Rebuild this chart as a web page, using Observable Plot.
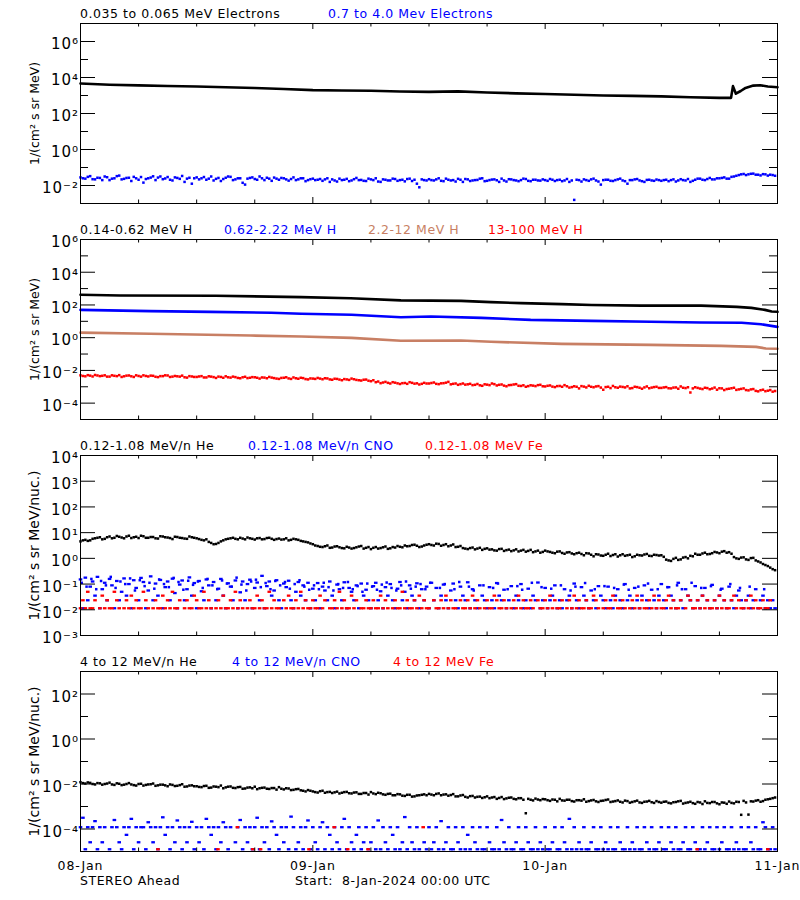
<!DOCTYPE html>
<html><head><meta charset="utf-8">
<script src="https://cdn.jsdelivr.net/npm/d3@7"></script>
<script src="https://cdn.jsdelivr.net/npm/@observablehq/plot@0.6"></script>
<style>
body{margin:0;background:#fff;}
#wrap{position:relative;width:800px;height:900px;background:#fff;font-family:"DejaVu Sans",sans-serif;overflow:hidden;}
.t{position:absolute;white-space:pre;font-size:12.5px;letter-spacing:0.55px;line-height:14px;}
</style></head><body><div id="wrap"></div>
<script>
// ---------- time range ----------
const startDate = "2024-01-08T00:00Z";
const endDate = "2024-01-11T00:00Z";
const dayTicks = ["2024-01-08T00:00Z","2024-01-09T00:00Z","2024-01-10T00:00Z","2024-01-11T00:00Z"];

// ---------- colours ----------
const cBlack = "#000000", cBlue = "#0000ff", cBrown = "#c87f64", cRed = "#ff0000";

// ---------- Panel 1: electrons (log10 values) ----------
const e1Hours = [0,3,6,9,12,15,18,21,24,27,30,33,36,39,42,45,48,51,54,57,60,63,66,67.2,67.4,67.7,68.2,68.7,69.5,70.2,71,72];
const e1Log   = [3.67,3.6,3.56,3.53,3.5,3.46,3.42,3.36,3.3,3.28,3.26,3.22,3.2,3.23,3.17,3.12,3.08,3.04,3.0,2.98,2.95,2.9,2.87,2.87,3.52,3.1,3.25,3.42,3.55,3.57,3.5,3.46];
const e2Log = [ // 0.7-4.0 MeV electrons, 30-min samples
 -1.55,-1.62,-1.48,-1.66,-1.58,-1.5,-1.7,-1.6,-1.45,-1.63,-1.57,-1.52,-1.68,-1.84,-1.6,-1.49,-1.56,-1.65,-1.53,-1.72,-1.58,-1.47,-1.62,-1.9,
 -1.55,-1.6,-1.68,-1.5,-1.63,-1.75,-1.57,-1.52,-1.66,-1.6,-1.95,-1.58,-1.64,-1.5,-1.7,-1.62,-1.56,-1.68,-1.6,-1.73,-1.55,-1.66,-1.6,-1.7,
 -1.62,-1.68,-1.74,-1.6,-1.66,-1.78,-1.7,-1.63,-1.72,-1.58,-1.69,-1.75,-1.66,-1.6,-1.8,-1.68,-1.72,-1.64,-1.7,-1.77,-1.62,-1.68,-2.1,-1.7,
 -1.65,-1.72,-1.6,-1.76,-1.68,-1.7,-1.63,-1.8,-1.66,-1.72,-1.69,-1.6,-1.74,-1.67,-1.71,-1.62,-1.78,-1.66,-1.72,-1.7,-1.64,-1.76,-1.68,-1.73,
 -1.7,-1.64,-1.75,-1.68,-1.72,-1.8,-2.8,-1.7,-1.66,-1.74,-1.62,-1.78,-1.7,-1.68,-1.75,-1.66,-1.72,-1.9,-1.7,-1.64,-1.76,-1.69,-1.72,-1.67,
 -1.74,-1.68,-1.7,-1.78,-1.65,-1.72,-1.8,-1.68,-1.62,-1.7,-1.58,-1.66,-1.6,-1.55,-1.62,-1.5,-1.42,-1.36,-1.38,-1.34,-1.4,-1.37,-1.45,-1.42];
const e2LogB = [ // same channel, samples 15 min later
 -1.6,-1.52,-1.65,-1.57,-1.7,-1.54,-1.62,-1.48,-1.66,-1.58,-1.75,-1.6,-1.53,-1.64,-1.56,-1.7,-1.5,-1.61,-1.68,-1.55,-1.63,-1.8,-1.57,-1.6,
 -1.66,-1.53,-1.62,-1.72,-1.58,-1.64,-1.5,-1.7,-1.6,-1.85,-1.62,-1.55,-1.68,-1.6,-1.57,-1.74,-1.62,-1.58,-1.66,-1.64,-1.7,-1.6,-1.76,-1.65,
 -1.7,-1.64,-1.66,-1.8,-1.72,-1.62,-1.68,-1.76,-1.65,-1.7,-1.74,-1.62,-1.7,-1.78,-1.66,-1.72,-1.62,-1.74,-1.68,-1.64,-1.75,-1.9,-1.66,-1.72,
 -1.7,-1.66,-1.74,-1.62,-1.72,-1.78,-1.68,-1.64,-1.75,-1.7,-1.62,-1.76,-1.7,-1.66,-1.8,-1.72,-1.65,-1.7,-1.76,-1.62,-1.74,-1.68,-1.72,-1.66,
 -1.74,-1.68,-1.7,-1.76,-1.64,-1.72,-1.68,-1.78,-1.7,-1.66,-1.72,-1.95,-1.68,-1.74,-1.7,-1.62,-1.76,-1.7,-1.66,-1.72,-1.8,-1.68,-1.74,-1.7,
 -1.7,-1.76,-1.66,-1.72,-1.7,-1.64,-1.74,-1.62,-1.68,-1.64,-1.66,-1.6,-1.58,-1.62,-1.52,-1.46,-1.38,-1.42,-1.35,-1.4,-1.44,-1.38,-1.4,-1.46];

// ---------- Panel 2: protons ----------
const h1Hours = [0,4.1,14,22.8,27.9,33.1,39.3,42.4,45.5,49.7,52.8,57.9,64.1,67.8,69.3,70.7,71.4,72];
const h1Log   = [2.62,2.58,2.56,2.48,2.41,2.28,2.25,2.17,2.11,2.05,2.0,1.96,1.96,1.88,1.82,1.7,1.6,1.58];
const h2Hours = [0,7.2,13.4,19.7,22.8,28,33.1,36.2,41.4,46.5,52.8,58.9,64.1,68.3,70.3,72];
const h2Log   = [1.7,1.62,1.58,1.52,1.46,1.4,1.25,1.29,1.21,1.09,1.03,0.97,0.93,0.91,0.82,0.66];
const h3Hours = [0,7.2,17.6,22.8,28,33.1,39.3,42.4,49.7,58.9,66.2,69.8,70.8,72];
const h3Log   = [0.31,0.24,0.13,0.07,-0.01,-0.19,-0.17,-0.25,-0.38,-0.44,-0.5,-0.56,-0.66,-0.68];
const h4Log = [ // 13-100 MeV H, 30-min samples
 -2.3,-2.36,-2.32,-2.28,-2.35,-2.3,-2.38,-2.33,-2.29,-2.36,-2.31,-2.4,-2.34,-2.3,-2.37,-2.33,-2.41,-2.35,-2.31,-2.38,-2.36,-2.32,-2.44,-2.37,
 -2.4,-2.35,-2.43,-2.38,-2.46,-2.4,-2.36,-2.44,-2.41,-2.48,-2.39,-2.45,-2.42,-2.5,-2.44,-2.4,-2.47,-2.52,-2.45,-2.49,-2.43,-2.51,-2.47,-2.55,
 -2.5,-2.46,-2.54,-2.49,-2.57,-2.52,-2.6,-2.55,-2.5,-2.58,-2.62,-2.56,-2.66,-2.72,-2.78,-2.7,-2.8,-2.75,-2.83,-2.77,-2.72,-2.81,-2.86,-2.76,
 -2.8,-2.74,-2.84,-2.78,-2.7,-2.82,-2.88,-2.8,-2.85,-2.9,-2.83,-2.94,-2.87,-2.8,-2.92,-2.86,-2.97,-2.89,-2.84,-2.95,-3.0,-2.91,-2.96,-2.88,
 -2.98,-2.92,-3.02,-2.95,-2.9,-3.05,-2.97,-3.1,-2.99,-2.94,-3.03,-2.96,-3.18,-3.0,-2.95,-3.06,-3.01,-2.97,-3.08,-3.02,-3.12,-2.98,-3.05,-3.0,
 -3.07,-3.02,-3.1,-3.04,-2.98,-3.08,-3.35,-3.03,-3.11,-3.06,-3.15,-3.05,-3.09,-3.2,-3.12,-3.06,-3.16,-3.1,-3.22,-3.14,-3.28,-3.18,-3.24,-3.3];
const h4LogB = [
 -2.34,-2.29,-2.37,-2.31,-2.33,-2.38,-2.3,-2.35,-2.4,-2.32,-2.36,-2.3,-2.38,-2.34,-2.32,-2.39,-2.35,-2.3,-2.4,-2.34,-2.38,-2.42,-2.35,-2.4,
 -2.37,-2.43,-2.36,-2.41,-2.38,-2.45,-2.42,-2.38,-2.46,-2.42,-2.47,-2.41,-2.45,-2.43,-2.48,-2.44,-2.5,-2.46,-2.42,-2.52,-2.48,-2.45,-2.53,-2.49,
 -2.52,-2.5,-2.48,-2.55,-2.51,-2.56,-2.53,-2.58,-2.54,-2.6,-2.57,-2.63,-2.6,-2.68,-2.74,-2.76,-2.72,-2.79,-2.78,-2.82,-2.76,-2.79,-2.82,-2.8,
 -2.77,-2.82,-2.79,-2.75,-2.85,-2.8,-2.84,-2.87,-2.82,-2.88,-2.91,-2.85,-2.9,-2.84,-2.88,-2.93,-2.9,-2.86,-2.94,-2.91,-2.96,-2.93,-2.9,-2.97,
 -2.94,-2.99,-2.96,-3.0,-2.97,-3.02,-3.0,-2.96,-3.04,-3.0,-2.98,-3.05,-3.02,-3.08,-3.03,-2.99,-3.04,-3.1,-3.0,-3.06,-3.04,-3.09,-3.02,-3.07,
 -3.04,-3.09,-3.05,-3.12,-3.06,-3.03,-3.1,-3.07,-3.14,-3.08,-3.11,-3.18,-3.1,-3.14,-3.09,-3.19,-3.13,-3.2,-3.16,-3.25,-3.21,-3.27,-3.2,-3.26];

// ---------- Panel 3: 0.12-1.08 MeV/n ----------
const he1Log = [ // He, 30-min samples
 0.66,0.72,0.7,0.78,0.82,0.76,0.85,0.8,0.84,0.78,0.88,0.82,0.79,0.86,0.8,0.83,0.77,0.85,0.81,0.75,0.83,0.79,0.76,0.82,
 0.78,0.72,0.74,0.6,0.56,0.66,0.74,0.78,0.76,0.8,0.74,0.78,0.73,0.79,0.75,0.8,0.72,0.77,0.74,0.7,0.76,0.72,0.66,0.62,
 0.55,0.48,0.44,0.5,0.42,0.47,0.4,0.45,0.38,0.43,0.48,0.41,0.36,0.44,0.4,0.46,0.39,0.42,0.45,0.5,0.48,0.53,0.44,0.5,
 0.55,0.5,0.56,0.52,0.47,0.54,0.45,0.4,0.36,0.42,0.38,0.33,0.39,0.35,0.3,0.37,0.32,0.28,0.35,0.3,0.26,0.33,0.27,0.22,
 0.3,0.25,0.2,0.27,0.18,0.24,0.16,0.22,0.12,0.19,0.08,0.15,0.1,0.18,0.13,0.07,0.16,0.12,0.05,0.14,0.11,0.17,0.09,0.13,
 0.12,-0.05,-0.1,0.02,-0.04,0.05,0.1,0.18,0.14,0.22,0.17,0.25,0.2,0.28,0.24,0.05,-0.02,0.04,-0.06,0.02,-0.12,-0.22,-0.3,-0.42];
const he1LogB = [
 0.7,0.68,0.76,0.8,0.74,0.82,0.78,0.87,0.81,0.85,0.79,0.84,0.88,0.8,0.83,0.78,0.86,0.82,0.79,0.84,0.8,0.77,0.85,0.8,
 0.75,0.7,0.64,0.55,0.6,0.7,0.76,0.8,0.74,0.77,0.81,0.76,0.78,0.74,0.79,0.76,0.75,0.73,0.78,0.72,0.74,0.68,0.64,0.58,
 0.5,0.45,0.47,0.41,0.46,0.43,0.39,0.42,0.4,0.46,0.38,0.44,0.41,0.38,0.43,0.37,0.44,0.48,0.43,0.47,0.52,0.49,0.46,0.53,
 0.52,0.57,0.49,0.55,0.5,0.44,0.48,0.38,0.4,0.35,0.41,0.37,0.34,0.31,0.36,0.29,0.34,0.31,0.27,0.33,0.29,0.24,0.3,0.25,
 0.27,0.22,0.26,0.21,0.23,0.19,0.2,0.17,0.2,0.14,0.16,0.11,0.14,0.09,0.16,0.12,0.1,0.14,0.08,0.12,0.15,0.1,0.14,0.11,
 0.06,-0.08,-0.02,-0.06,0.03,0.0,0.08,0.14,0.19,0.16,0.2,0.23,0.26,0.22,0.18,0.0,0.03,-0.04,0.01,-0.08,-0.16,-0.26,-0.36,-0.46];
const cno1Log = [ // CNO, 15-min samples
 -0.82,-1.94,-0.75,-1.63,-1.1,-0.9,-1.45,-0.72,-1.94,-1.2,-0.95,-1.63,-0.8,-1.05,-1.94,-0.88,-1.63,-1.3,-0.78,-1.45,-1.0,-1.94,-0.85,-1.15,
 -1.63,-0.76,-0.92,-1.94,-1.25,-0.7,-1.63,-0.98,-1.45,-0.84,-1.94,-1.12,-0.9,-1.63,-0.79,-1.35,-1.94,-1.02,-0.86,-1.63,-1.2,-0.74,-1.45,-0.96,
 -1.94,-0.88,-1.28,-1.63,-0.82,-1.05,-1.94,-0.92,-1.63,-1.18,-0.8,-1.45,-1.94,-0.97,-1.1,-1.63,-0.86,-1.94,-1.32,-0.9,-1.63,-1.0,-0.83,-1.94,
 -1.15,-0.94,-1.63,-0.68,-1.94,-1.08,-0.9,-1.45,-1.25,-0.85,-1.63,-1.94,-0.98,-1.12,-0.87,-1.63,-1.94,-1.3,-0.92,-1.45,-1.05,-1.63,-0.95,-1.94,
 -1.18,-1.63,-0.96,-1.94,-1.1,-1.25,-1.63,-0.9,-1.45,-1.94,-1.02,-1.2,-1.63,-0.93,-1.94,-1.15,-1.3,-1.63,-1.05,-1.94,-0.98,-1.45,-1.22,-1.63,
 -1.94,-1.08,-0.95,-1.63,-1.28,-1.94,-1.12,-1.45,-1.0,-1.63,-1.94,-1.18,-0.92,-1.63,-1.3,-1.94,-1.05,-1.45,-1.63,-0.97,-1.94,-1.2,-1.63,-1.1,
 -1.94,-0.95,-1.63,-1.15,-1.94,-1.45,-1.02,-1.63,-1.94,-1.25,-0.98,-1.63,-1.94,-1.1,-1.45,-1.63,-0.93,-1.94,-1.2,-1.63,-1.94,-1.05,-1.45,-1.63,
 -1.94,-1.12,-1.63,-1.94,-0.96,-1.45,-1.63,-1.22,-1.94,-1.63,-1.08,-1.94,-1.45,-1.63,-1.0,-1.94,-1.63,-1.18,-1.94,-1.45,-1.63,-0.94,-1.94,-1.63,
 -1.15,-1.94,-1.63,-1.45,-1.05,-1.94,-1.63,-1.94,-1.2,-1.63,-1.45,-1.94,-0.98,-1.63,-1.94,-1.12,-1.45,-1.63,-1.94,-1.25,-1.63,-1.94,-1.08,-1.45,
 -1.63,-1.94,-1.1,-1.63,-1.94,-1.45,-1.2,-1.63,-1.94,-1.0,-1.63,-1.45,-1.94,-1.15,-1.63,-1.94,-1.45,-1.05,-1.63,-1.94,-1.22,-1.63,-1.94,-1.45,
 -1.0,-1.63,-1.94,-1.12,-1.45,-1.63,-1.94,-0.95,-1.63,-1.94,-1.2,-1.45,-1.63,-1.94,-1.08,-1.63,-1.94,-1.45,-1.15,-1.63,-1.94,-1.03,-1.63,-1.94,
 -1.45,-1.18,-1.63,-1.94,-1.1,-1.63,-1.94,-1.45,-1.25,-1.63,-1.94,-1.63,-1.45,-1.94,-1.63,-1.2,-1.94,-1.63,-1.45,-1.94,-1.63,-1.94,-1.63,-1.94];
const cno1LogB = [ // CNO, additional 30-min samples of the upper band
 -0.95,-1.1,-0.8,-1.2,-0.88,-1.05,-0.72,-1.15,-0.9,-1.0,-0.78,-1.25,-0.85,-1.08,-0.95,-1.18,-0.82,-1.0,-1.12,-0.76,-0.92,-1.22,-0.87,-1.03,
 -0.9,-1.15,-0.8,-1.05,-1.2,-0.86,-0.98,-1.1,-0.75,-1.02,-1.25,-0.9,-0.83,-1.12,-0.96,-1.2,-0.88,-1.05,-0.92,-1.18,-1.0,-0.85,-1.1,-1.22,
 -1.05,-1.2,-0.95,-1.12,-1.25,-1.0,-1.15,-0.92,-1.2,-1.08,-1.3,-0.98,-1.1,-1.22,-1.02,-0.94,-1.15,-1.25,-1.05,-0.9,-1.18,-1.1,-1.0,-1.2,
 -0.95,null,-1.15,-1.0,null,-1.2,-0.92,null,-1.1,-1.25,null,-1.05,null,-1.15,-0.98,null,-1.2,null,-1.08,-1.22,null,-0.95,null,-1.12,
 null,-1.18,null,-1.05,null,-1.25,-1.1,null,-0.96,null,-1.2,null,-1.08,null,-1.15,null,-1.02,-1.22,null,-1.1,null,-0.98,null,-1.2,
 null,-1.12,null,-1.05,-1.2,null,-0.95,null,-1.15,null,-1.08,null,-1.22,null,-1.0,null,-1.15,null,-1.1,null,null,-1.2,null,null];
const fe1Log = [ // Fe, 15-min samples
 -1.94,-1.63,-1.94,-1.3,-1.94,-1.94,-1.63,null,-1.94,-1.45,-1.94,-1.63,-1.94,-1.94,-1.3,-1.63,-1.94,null,-1.94,-1.63,-1.94,-1.45,-1.94,-1.63,
 -1.94,-1.94,-1.3,-1.63,-1.94,null,-1.94,-1.63,-1.94,-1.94,-1.45,-1.94,-1.63,-1.94,-1.3,-1.94,-1.94,-1.63,null,-1.94,-1.63,-1.94,-1.94,-1.45,
 -1.63,-1.94,-1.94,-1.3,-1.94,-1.63,-1.94,null,-1.94,-1.63,-1.94,-1.45,-1.94,-1.94,-1.63,-1.94,-1.3,-1.94,-1.63,-1.94,null,-1.94,-1.63,-1.94,
 -1.94,-1.45,-1.94,-1.63,-1.94,-1.94,-1.3,-1.94,-1.63,-1.94,-1.94,null,-1.63,-1.94,-1.45,-1.94,-1.94,-1.63,-1.94,-1.3,-1.94,-1.63,-1.94,-1.94,
 -1.63,-1.94,-1.94,-1.45,-1.94,-1.63,null,-1.94,-1.94,-1.63,-1.94,-1.3,-1.94,-1.63,-1.94,-1.94,-1.45,-1.94,-1.63,null,-1.94,-1.94,-1.63,-1.94,
 -1.94,-1.63,-1.94,-1.94,-1.45,-1.94,-1.63,-1.94,null,-1.94,-1.63,-1.94,-1.94,-1.3,-1.94,-1.63,-1.94,-1.94,-1.63,-1.94,-1.45,-1.94,-1.63,-1.94,
 -1.94,null,-1.63,-1.94,-1.94,-1.63,-1.94,-1.45,-1.94,-1.63,-1.94,-1.94,null,-1.63,-1.94,-1.94,-1.63,-1.94,-1.45,-1.94,-1.63,-1.94,null,-1.94,
 -1.63,-1.94,-1.94,-1.45,-1.63,-1.94,-1.94,-1.63,-1.94,null,-1.94,-1.63,-1.94,-1.45,-1.94,-1.63,-1.94,-1.94,-1.63,-1.94,null,-1.63,-1.94,-1.94,
 -1.63,-1.94,-1.45,-1.94,-1.63,-1.94,-1.94,-1.63,null,-1.94,-1.63,-1.94,-1.45,-1.94,-1.63,-1.94,-1.94,-1.63,-1.94,-1.94,-1.45,-1.63,-1.94,null,
 -1.94,-1.63,-1.94,-1.94,-1.45,-1.63,-1.94,-1.94,-1.63,-1.94,null,-1.94,-1.63,-1.94,-1.45,-1.94,-1.63,-1.94,-1.94,-1.63,-1.94,-1.45,-1.94,-1.63,
 -1.94,-1.94,-1.63,-1.45,-1.94,-1.63,-1.94,-1.94,-1.63,null,-1.94,-1.45,-1.63,-1.94,-1.94,-1.63,-1.94,-1.45,-1.94,-1.63,-1.94,-1.94,-1.63,-1.94,
 -1.45,-1.94,-1.63,-1.94,-1.94,-1.63,-1.45,-1.94,-1.63,-1.94,-1.94,-1.63,-1.94,-1.45,-1.94,-1.63,-1.94,-1.94,-1.63,-1.94,-1.94,-1.63,null,null];

// ---------- Panel 4: 4-12 MeV/n ----------
const he2Log = [ // He, 30-min samples
 -1.92,-1.98,-1.95,-2.02,-1.97,-2.0,-1.94,-2.04,-1.99,-2.03,-1.96,-2.05,-2.0,-2.07,-2.02,-1.98,-2.06,-2.03,-2.1,-2.04,-2.08,-2.01,-2.11,-2.06,
 -2.1,-2.14,-2.08,-2.16,-2.12,-2.07,-2.15,-2.11,-2.18,-2.13,-2.2,-2.15,-2.12,-2.19,-2.16,-2.22,-2.18,-2.14,-2.24,-2.2,-2.26,-2.22,-2.3,-2.27,
 -2.33,-2.38,-2.3,-2.36,-2.4,-2.34,-2.39,-2.35,-2.42,-2.37,-2.44,-2.4,-2.36,-2.45,-2.41,-2.48,-2.43,-2.5,-2.46,-2.53,-2.48,-2.55,-2.5,-2.46,
 -2.44,-2.5,-2.42,-2.47,-2.52,-2.45,-2.55,-2.49,-2.6,-2.53,-2.57,-2.62,-2.55,-2.6,-2.66,-2.58,-2.64,-2.6,-2.68,-2.63,-3.3,-2.7,-2.65,-2.72,
 -2.68,-2.75,-2.7,-2.66,-2.74,-2.7,-2.78,-2.72,-2.68,-2.76,-2.71,-2.8,-2.74,-2.69,-2.78,-2.73,-2.82,-2.76,-2.8,-2.74,-2.84,-2.78,-2.81,-2.76,
 -2.83,-2.78,-2.86,-2.8,-2.75,-2.84,-2.79,-2.88,-2.82,-2.77,-2.85,-2.8,-2.9,-2.83,-2.78,-2.86,-2.8,-2.75,-3.36,-2.78,-2.72,-2.76,-2.68,-2.63];
const he2LogB = [
 -1.96,-1.93,-2.0,-1.96,-2.03,-1.98,-2.02,-1.97,-2.05,-2.0,-2.02,-2.07,-1.99,-2.04,-2.01,-2.08,-2.03,-2.06,-2.02,-2.09,-2.05,-2.12,-2.07,-2.1,
 -2.13,-2.09,-2.17,-2.11,-2.14,-2.19,-2.12,-2.17,-2.14,-2.21,-2.16,-2.19,-2.23,-2.17,-2.21,-2.18,-2.25,-2.21,-2.19,-2.27,-2.23,-2.28,-2.33,-2.3,
 -2.36,-2.32,-2.39,-2.35,-2.37,-2.42,-2.36,-2.41,-2.38,-2.44,-2.4,-2.47,-2.42,-2.39,-2.46,-2.44,-2.5,-2.45,-2.52,-2.48,-2.56,-2.51,-2.48,-2.5,
 -2.47,-2.44,-2.5,-2.46,-2.49,-2.55,-2.51,-2.57,-2.54,-2.6,-2.56,-2.59,-2.63,-2.58,-2.62,-2.67,-2.61,-2.66,-2.63,-2.7,-2.66,-2.73,-2.69,-2.67,
 -2.72,-2.69,-2.77,-2.73,-2.7,-2.76,-2.72,-2.74,-2.79,-2.73,-2.77,-2.75,-2.71,-2.8,-2.76,-2.79,-2.74,-2.83,-2.77,-2.82,-2.79,-2.75,-2.84,-2.8,
 -2.79,-2.84,-2.81,-2.77,-2.87,-2.82,-2.85,-2.8,-2.89,-2.84,-2.8,-2.86,-2.82,-2.88,-2.84,-2.79,-3.37,-2.82,-2.77,-2.74,-2.79,-2.7,-2.66,-2.6];
const cno2Log = [ // CNO, 15-min samples
 -3.92,-3.5,-4.9,-3.92,-4.59,-3.92,-3.65,-4.9,-3.92,-4.59,-3.92,null,-4.9,-3.92,-3.6,-3.92,-4.59,-4.9,-3.92,-4.26,-3.92,-3.55,-4.9,-3.92,
 -4.59,-3.92,-3.92,-4.9,-3.7,-3.92,-4.59,-3.92,-4.9,-3.92,-3.48,-4.26,-3.92,-4.9,-3.92,-4.59,-3.62,-3.92,-4.9,-3.92,-4.59,-3.92,-3.68,-4.9,
 -3.92,-4.59,-3.92,-4.9,-3.55,-3.92,-4.26,-3.92,-4.9,-3.92,-4.59,-3.7,-3.92,-4.9,-3.92,null,-4.59,-3.92,-3.6,-4.9,-3.92,-4.59,-3.92,-4.9,
 -3.92,-3.5,-4.9,-3.92,-4.59,-3.92,-4.9,-3.66,-3.92,-4.26,-4.9,-3.92,-4.59,-3.92,-4.9,-3.45,-3.92,-4.9,-4.59,-3.92,-4.9,-3.92,-3.62,-4.9,
 -3.92,-4.59,-4.9,-3.92,-3.7,-4.9,-3.92,-4.26,-4.9,-3.92,-4.59,-4.9,-3.92,-3.55,-4.9,-3.92,-4.59,-4.9,-4.26,-3.92,-4.9,-4.59,-3.92,-4.9,
 -4.59,-3.92,-4.9,-3.62,-4.9,-3.92,-4.59,-4.9,-3.92,-4.26,-4.9,-3.92,-4.9,-4.59,-3.47,-4.9,-3.92,-4.59,-4.9,-3.92,-4.9,null,-4.59,-4.9,
 -3.92,-4.9,-4.59,-3.92,-4.9,-3.65,-4.9,-4.59,-3.92,-4.9,-4.9,-3.92,-4.59,-4.9,-3.92,-4.9,-4.26,-4.9,-3.92,-4.59,-4.9,-3.92,-4.9,-4.9,
 -3.92,-4.59,-4.9,-4.9,-3.92,-4.9,-3.6,-4.59,-4.9,-3.92,-4.9,-4.9,-4.59,-3.92,-4.9,-4.9,-3.92,-4.59,-4.9,-4.9,-3.92,-4.9,-4.59,-4.9,
 -3.92,-4.9,-4.9,-4.59,-3.92,-4.9,-4.9,-3.92,-4.59,-4.9,-3.55,-4.9,-3.92,-4.9,-4.59,-4.9,-3.92,-4.9,-4.9,-4.59,-3.92,-4.9,-4.9,-3.92,
 -4.9,-4.59,-4.9,-3.92,-4.9,-4.9,-3.92,-4.59,-4.9,-4.9,-3.92,-4.9,-4.59,-4.9,-3.92,-4.9,-4.9,-3.92,-4.59,-4.9,-3.92,-4.9,-4.9,-4.59,
 -3.92,-4.9,-4.9,-3.92,-4.59,-4.9,-3.92,-4.9,-4.9,-4.59,-3.92,-4.9,-4.9,-3.92,-4.59,-4.9,-4.9,-3.92,-4.9,-4.59,-3.92,-4.9,-4.9,-3.92,
 -4.9,-4.59,-3.92,-4.9,-4.9,-3.92,-4.9,-4.59,-4.9,-3.92,-4.9,-4.9,-3.92,-4.59,-4.9,-3.92,-4.9,-4.9,-3.7,-3.92,-4.9,-4.9,-3.92,-4.9];
const fe2Hours = [8,14.2,16.2,17.8,18.6,23.6,26.2,27.6,29.7,35.4,63.7,71];
const fe2Log   = [-4.9,-4.9,-3.92,-4.9,-4.9,-4.9,-3.92,-4.9,-4.9,-3.92,-4.9,-4.9];

// ---------- tick values ----------
const p1Major = [1e6,1e4,1e2,1e0,1e-2], p1Minor = [1e5,1e3,1e1,1e-1];
const p2Major = [1e6,1e4,1e2,1e0,1e-2,1e-4], p2Minor = [1e5,1e3,1e1,1e-1,1e-3];
const p3Major = [1e4,1e3,1e2,1e1,1e0,1e-1,1e-2,1e-3], p3Minor = [];
const p4Major = [1e2,1e0,1e-2,1e-4], p4Minor = [1e1,1e-1,1e-3];

// ---------- helpers ----------
const T0 = new Date(startDate), T1 = new Date(endDate);
const span = T1 - T0;
const regular = (vals, shift = 0) => vals.map((v, i) => v == null ? null : {t: new Date(+T0 + (i + shift) * span / vals.length), v: Math.pow(10, v)}).filter(d => d);
const timed = (hrs, vals) => hrs.map((h, i) => ({t: new Date(+T0 + h * 3600e3), v: Math.pow(10, vals[i])}));
const SUP = {"-":"\u207B","0":"\u2070","1":"\u00B9","2":"\u00B2","3":"\u00B3","4":"\u2074","5":"\u2075","6":"\u2076","7":"\u2077","8":"\u2078","9":"\u2079"};
const powFmt = d => "10" + String(Math.round(Math.log10(d))).split("").map(c => SUP[c]).join("");
const days = dayTicks.map(d => new Date(d));
const sixHours = d3.utcHour.every(6).range(T0, T1).filter(d => d.getUTCHours() !== 0);

const wrap = document.getElementById("wrap");
const PW = 800 - 80 - 23, FH = 180;

const squareSym = {draw(ctx) { ctx.rect(-1.25, -1.25, 2.5, 2.5); }};
const dashSym = {draw(ctx) { ctx.rect(-1.8, -1.15, 3.6, 2.3); }};
function dots(data, color, sym = squareSym) {
  return Plot.dot(data, {x: "t", y: "v", r: 1.3, symbol: sym, fill: color, stroke: null});
}
function band(data, color, w = 2.6) {
  return Plot.line(data, {x: "t", y: "v", stroke: color, strokeWidth: w});
}

function panel(k, o) {
  const frameTop = 23 + 216 * k;
  const mt = 4, mb = o.xLabels ? 32 : 4;
  const marks = [
    ...o.marks,
    Plot.tickY(o.major, {y: d => d, insetRight: PW - 15}),
    Plot.tickY(o.major, {y: d => d, insetLeft: PW - 15}),
    Plot.tickY(o.minor, {y: d => d, insetRight: PW - 8}),
    Plot.tickY(o.minor, {y: d => d, insetLeft: PW - 8}),
    Plot.tickX(sixHours, {x: d => d, insetTop: FH - 3.5}),
    Plot.tickX(sixHours, {x: d => d, insetBottom: FH - 3.5}),
    Plot.tickX(days, {x: d => d, insetTop: FH - 6}),
    Plot.tickX(days, {x: d => d, insetBottom: FH - 6}),
    Plot.axisY(o.major, {anchor: "left", tickSize: 0, tickPadding: 1.5, tickFormat: powFmt, fontSize: 15, dy: 3}),
    Plot.text([o.ylabel], {text: d => d, frameAnchor: "left", textAnchor: "middle", dx: -46, rotate: -90, fontSize: o.ylabelSize, fill: "black"}),
    Plot.frame({stroke: "black"})
  ];
  if (o.xLabels) marks.push(Plot.axisX(days, {anchor: "bottom", tickSize: 0, tickPadding: 10, tickFormat: d3.utcFormat("%d-%b"), fontSize: 12.5}));
  const fig = Plot.plot({
    width: 800, height: mt + FH + mb,
    marginLeft: 80, marginRight: 23, marginTop: mt, marginBottom: mb,
    style: {fontFamily: "DejaVu Sans, sans-serif", background: "white", color: "black", overflow: "visible"},
    x: {type: "utc", domain: [T0, T1], label: null, ...(o.xLabels ? {} : {axis: null})},
    y: {type: "log", domain: o.domain, label: null},
    marks
  });
  fig.querySelectorAll('g[aria-label="y-axis tick label"]').forEach(g => g.setAttribute("letter-spacing", "1"));
  fig.querySelectorAll('g[aria-label="x-axis tick label"]').forEach(g => g.setAttribute("letter-spacing", "0.9"));
  fig.style.position = "absolute";
  fig.style.left = "0px";
  fig.style.top = (frameTop - mt) + "px";
  wrap.appendChild(fig);
  for (const [txt, col, left] of o.titles) {
    const s = document.createElement("div");
    s.className = "t";
    s.textContent = txt;
    s.style.color = col;
    s.style.left = left + "px";
    s.style.top = (frameTop - 16.5) + "px";
    wrap.appendChild(s);
  }
}

panel(0, {
  domain: [1e-3, 1e7], major: p1Major, minor: p1Minor, ylabel: "1/(cm\u00B2 s sr MeV)", ylabelSize: 12.5,
  titles: [["0.035 to 0.065 MeV Electrons", cBlack, 80], ["0.7 to 4.0 Mev Electrons", cBlue, 328]],
  marks: [band(timed(e1Hours, e1Log), cBlack), dots(regular(e2Log), cBlue), dots(regular(e2LogB, 0.5), cBlue)]
});
panel(1, {
  domain: [1e-5, 1e6], major: p2Major, minor: p2Minor, ylabel: "1/(cm\u00B2 s sr MeV)", ylabelSize: 12.5,
  titles: [["0.14-0.62 MeV H", cBlack, 80], ["0.62-2.22 MeV H", cBlue, 224], ["2.2-12 MeV H", cBrown, 368], ["13-100 MeV H", cRed, 488]],
  marks: [band(timed(h1Hours, h1Log), cBlack), band(timed(h2Hours, h2Log), cBlue), band(timed(h3Hours, h3Log), cBrown),
          dots(regular(h4Log), cRed), dots(regular(h4LogB, 0.5), cRed)]
});
panel(2, {
  domain: [1e-3, 1e4], major: p3Major, minor: p3Minor, ylabel: "1/(cm\u00B2 s sr MeV/nuc.)", ylabelSize: 14,
  titles: [["0.12-1.08 MeV/n He", cBlack, 80], ["0.12-1.08 MeV/n CNO", cBlue, 248], ["0.12-1.08 MeV Fe", cRed, 425]],
  marks: [dots(regular(he1Log), cBlack), dots(regular(he1LogB, 0.5), cBlack),
          dots(regular(cno1Log), cBlue, dashSym), dots(regular(cno1LogB, 0.25), cBlue),
          dots(regular(fe1Log), cRed, dashSym)]
});
panel(3, {
  domain: [1e-5, 1e3], major: p4Major, minor: p4Minor, ylabel: "1/(cm\u00B2 s sr MeV/nuc.)", ylabelSize: 14, xLabels: true,
  titles: [["4 to 12 MeV/n He", cBlack, 80], ["4 to 12 MeV/n CNO", cBlue, 232], ["4 to 12 MeV Fe", cRed, 393]],
  marks: [dots(regular(he2Log), cBlack), dots(regular(he2LogB, 0.5), cBlack),
          dots(regular(cno2Log), cBlue, dashSym), dots(timed(fe2Hours, fe2Log), cRed, dashSym)]
});

const foot = [["STEREO Ahead", 80], ["Start:  8-Jan-2024 00:00 UTC", 295]];
for (const [txt, left] of foot) {
  const s = document.createElement("div");
  s.className = "t";
  s.textContent = txt;
  s.style.left = left + "px";
  s.style.top = "874px";
  s.style.color = "black";
  wrap.appendChild(s);
}
</script></body></html>
